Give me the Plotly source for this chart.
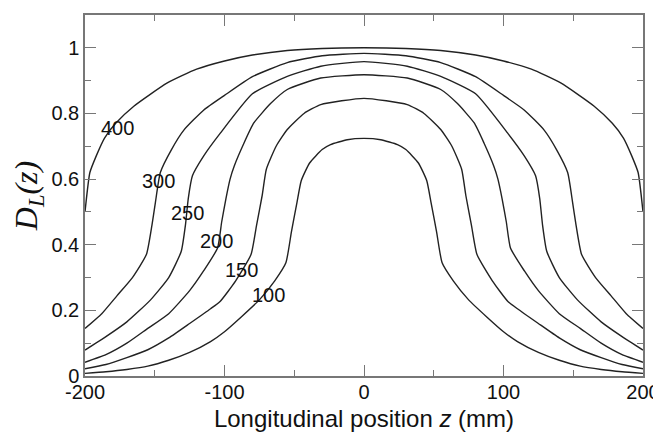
import plotly.graph_objects as go

# Longitudinal position z (mm) and D_L(z) for each length label
z_400 = [-200, -196.5, -192, -186, -178, -165, -141, -120, -100, -80, -55, -30, 0,
         30, 55, 80, 100, 120, 141, 165, 178, 186, 192, 196.5, 200]
d_400 = [0.50, 0.62, 0.67, 0.725, 0.77, 0.822, 0.893, 0.935, 0.96, 0.978, 0.992, 0.998, 1.0,
         0.998, 0.992, 0.978, 0.96, 0.935, 0.893, 0.822, 0.77, 0.725, 0.67, 0.62, 0.50]

z_300 = [-200, -188, -177, -166, -156, -152, -149.5, -146, -138, -129, -115, -100, -80, -55, -30, 0,
         30, 55, 80, 100, 115, 129, 138, 146, 149.5, 152, 156, 166, 177, 188, 200]
d_300 = [0.145, 0.19, 0.245, 0.30, 0.37, 0.46, 0.53, 0.62, 0.69, 0.75, 0.81, 0.855, 0.912, 0.955, 0.976, 0.983,
         0.976, 0.955, 0.912, 0.855, 0.81, 0.75, 0.69, 0.62, 0.53, 0.46, 0.37, 0.30, 0.245, 0.19, 0.145]

z_250 = [-200, -185, -170, -153, -140, -131, -128, -126, -123, -115, -103, -80, -55, -31, 0,
         31, 55, 80, 103, 115, 123, 126, 128, 131, 140, 153, 170, 185, 200]
d_250 = [0.079, 0.12, 0.165, 0.232, 0.30, 0.38, 0.46, 0.54, 0.61, 0.67, 0.74, 0.86, 0.913, 0.944, 0.958,
         0.944, 0.913, 0.86, 0.74, 0.67, 0.61, 0.54, 0.46, 0.38, 0.30, 0.232, 0.165, 0.12, 0.079]

z_200 = [-200, -185, -170, -155, -140, -125, -115, -105, -102, -99, -96, -93, -86, -79, -67, -55, -31, 0,
         31, 55, 67, 79, 86, 93, 96, 99, 102, 105, 115, 125, 140, 155, 170, 185, 200]
d_200 = [0.042, 0.065, 0.10, 0.145, 0.19, 0.26, 0.32, 0.39, 0.47, 0.54, 0.60, 0.64, 0.71, 0.771, 0.83, 0.873, 0.908, 0.918,
         0.908, 0.873, 0.83, 0.771, 0.71, 0.64, 0.60, 0.54, 0.47, 0.39, 0.32, 0.26, 0.19, 0.145, 0.10, 0.065, 0.042]

z_150 = [-200, -185, -170, -155, -140, -125, -110, -103, -92, -81, -77, -73, -70, -63, -55, -43, -31, 0,
         31, 43, 55, 63, 70, 73, 77, 81, 92, 103, 110, 125, 140, 155, 170, 185, 200]
d_150 = [0.022, 0.035, 0.056, 0.08, 0.116, 0.16, 0.205, 0.228, 0.29, 0.37, 0.46, 0.55, 0.63, 0.70, 0.751, 0.80, 0.827, 0.846,
         0.827, 0.80, 0.751, 0.70, 0.63, 0.55, 0.46, 0.37, 0.29, 0.228, 0.205, 0.16, 0.116, 0.08, 0.056, 0.035, 0.022]

z_100 = [-200, -185, -170, -155, -140, -125, -110, -100, -88, -75, -64, -56, -52, -48, -45, -39, -30, -24, -12, 0,
         12, 24, 30, 39, 45, 48, 52, 56, 64, 75, 88, 100, 110, 125, 140, 155, 170, 185, 200]
d_100 = [0.008, 0.013, 0.02, 0.03, 0.048, 0.072, 0.105, 0.135, 0.18, 0.232, 0.29, 0.345, 0.44, 0.53, 0.595, 0.649, 0.69, 0.705, 0.72, 0.724,
         0.72, 0.705, 0.69, 0.649, 0.595, 0.53, 0.44, 0.345, 0.29, 0.232, 0.18, 0.135, 0.105, 0.072, 0.048, 0.03, 0.02, 0.013, 0.008]

curve_names = ["400", "300", "250", "200", "150", "100"]
curve_z = [z_400, z_300, z_250, z_200, z_150, z_100]
curve_d = [d_400, d_300, d_250, d_200, d_150, d_100]

# label anchor positions (data coords)
label_z = [-176.5, -147, -126.6, -106, -87.5, -68.7]
label_d = [0.757, 0.593, 0.496, 0.41, 0.323, 0.247]

x_tickvals = [-200, -100, 0, 100, 200]
x_ticktext = ["-200", "-100", "0", "100", "200"]
y_tickvals = [0, 0.2, 0.4, 0.6, 0.8, 1.0]
y_ticktext = ["0", "0.2", "0.4", "0.6", "0.8", "1"]

fig = go.Figure()
for name, zs, ds in zip(curve_names, curve_z, curve_d):
    fig.add_trace(go.Scatter(x=zs, y=ds, mode="lines", name=name,
                             line=dict(color="#222222", width=1.4, shape="spline", smoothing=0.5),
                             showlegend=False))

for name, lz, ld in zip(curve_names, label_z, label_d):
    fig.add_annotation(x=lz, y=ld, xref="x", yref="y", text=name, showarrow=False,
                       font=dict(family="Liberation Sans, Arial", size=20, color="#111111"))

axis_common = dict(
    showgrid=False, zeroline=False, showline=True, linecolor="#777777", linewidth=1.5,
    mirror="allticks", ticks="inside", ticklen=11, tickwidth=1.3, tickcolor="#777777",
    tickfont=dict(family="Liberation Sans, Arial", size=20, color="#111111"),
    automargin=False,
)

fig.update_xaxes(range=[-200, 200], tickvals=x_tickvals, ticktext=x_ticktext,
                 minor=dict(dtick=50, ticks="inside", ticklen=6, tickwidth=1.3, tickcolor="#777777"),
                 ticklabelstandoff=-3,
                 title=dict(text="Longitudinal position <i>z</i> (mm)",
                            font=dict(family="Liberation Sans, Arial", size=24, color="#111111"),
                            standoff=8),
                 **axis_common)
fig.update_yaxes(range=[0, 1.1], tickvals=y_tickvals, ticktext=y_ticktext,
                 minor=dict(dtick=0.1, ticks="inside", ticklen=6, tickwidth=1.3, tickcolor="#777777"),
                 title=dict(text="<i>D</i><sub><i>L</i></sub><i>(z)</i>",
                            font=dict(family="Liberation Serif, Times New Roman", size=32, color="#111111"),
                            standoff=12),
                 **axis_common)

# page body has an 8px margin; figure sized/offset so the plot area lands where the reference has it
fig.update_layout(width=653, height=424, margin=dict(l=77, r=18, t=7, b=56),
                  plot_bgcolor="white", paper_bgcolor="white")

fig.write_html("out.html")
